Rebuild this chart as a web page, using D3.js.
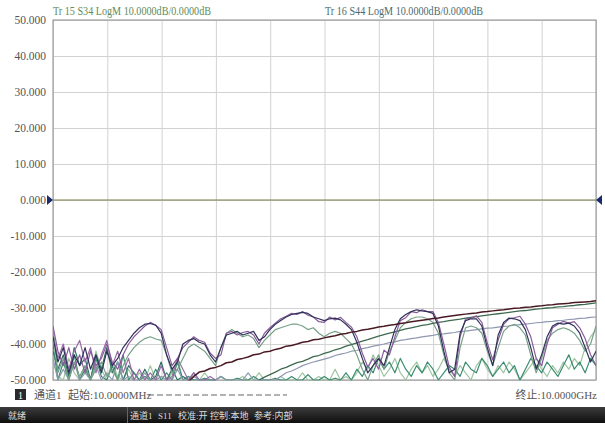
<!DOCTYPE html>
<html>
<head>
<meta charset="utf-8">
<script src="https://cdn.jsdelivr.net/npm/d3@7"></script>
<style>
  body { margin: 0; background: #fff; }
  svg { display: block; }
</style>
</head>
<body>
<svg class="chart"></svg>
<script>
// Frequency points (GHz), start 10 MHz, stop 10 GHz
const freqGHz = [
  0.01, 0.1, 0.2, 0.3, 0.4, 0.5, 0.6, 0.7, 0.8, 0.9,
  1.0, 1.1, 1.2, 1.3, 1.4, 1.5, 1.6, 1.7, 1.8, 1.9,
  2.0, 2.1, 2.2, 2.3, 2.4, 2.5, 2.6, 2.7, 2.8, 2.9,
  3.0, 3.1, 3.2, 3.3, 3.4, 3.5, 3.6, 3.7, 3.8, 3.9,
  4.0, 4.1, 4.2, 4.3, 4.4, 4.5, 4.6, 4.7, 4.8, 4.9,
  5.0, 5.1, 5.2, 5.3, 5.4, 5.5, 5.6, 5.7, 5.8, 5.9,
  6.0, 6.1, 6.2, 6.3, 6.4, 6.5, 6.6, 6.7, 6.8, 6.9,
  7.0, 7.1, 7.2, 7.3, 7.4, 7.5, 7.6, 7.7, 7.8, 7.9,
  8.0, 8.1, 8.2, 8.3, 8.4, 8.5, 8.6, 8.7, 8.8, 8.9,
  9.0, 9.1, 9.2, 9.3, 9.4, 9.5, 9.6, 9.7, 9.8, 9.9,
  10.0
];

// grid divisions and tick labels
const xGridGHz = [0.01, 1.009, 2.008, 3.007, 4.006, 5.005, 6.004, 7.003, 8.002, 9.001, 10.0];
const yTicks = [50, 40, 30, 20, 10, 0, -10, -20, -30, -40, -50];

// traces (dB)
const tr1 = [
  -35, -42, -46, -41, -47, -43, -48, -42, -46, -44,
  -40, -45, -47, -43, -40, -38, -36.5, -35, -34, -34.8,
  -36, -41, -46, -44, -41, -39.5, -38, -39, -39.5, -42.5,
  -44, -43, -37, -36.5, -37.5, -36.8, -36.5, -37.5, -40, -37,
  -35.5, -34.2, -33, -32.3, -31.5, -31.8, -31, -32, -32.5, -33.8,
  -34, -32.5, -33.3, -32.6, -34, -35.3, -38, -42.5, -46.4, -44,
  -47, -41.7, -43, -38, -33.5, -32.7, -31, -31.3, -30.5, -31,
  -31, -34, -40, -46.4, -49, -38, -33, -32.8, -32.2, -34,
  -39.7, -44.4, -38.9, -34.5, -33, -32.7, -32.3, -34.5, -38, -44,
  -46, -40, -35.5, -34.5, -33.7, -34.2, -33.8, -35.5, -38.5, -43,
  -46
];
const tr2 = [
  -38, -45, -41, -48, -43, -46, -41, -47, -43, -48,
  -42, -46, -44, -41, -39, -37, -35.5, -34.5, -34.3, -34.8,
  -37, -43, -47, -45, -40, -39, -38.5, -39.5, -40, -43,
  -45, -41, -37.5, -37, -36.5, -37.5, -37, -36.5, -39, -38,
  -36, -34.5, -33.5, -32.5, -31.8, -31.5, -31.2, -31.5, -32.5, -33,
  -33.5, -33, -32.8, -33.3, -34.5, -36, -39.5, -44, -48, -46,
  -44, -46, -41, -36, -33, -31.8, -31, -30.5, -30.8, -31,
  -31.5, -35, -42, -48, -47, -37, -33.5, -33, -33, -35,
  -41, -46, -37.5, -34, -32.8, -33, -33.5, -36, -41, -47,
  -43, -38, -35, -34.2, -34.5, -34.2, -35, -37, -41, -45,
  -42
];
const tr3 = [
  -36, -48, -44, -50, -45, -49, -46, -50, -47, -45,
  -49, -47, -50, -46, -43, -41, -39.5, -38.5, -38, -38.6,
  -39, -43, -48, -47, -44, -41, -40, -41, -42, -44,
  -46, -41, -37, -36, -37, -38, -37.5, -38.5, -41, -39,
  -37.5, -36, -35.5, -35, -34.5, -34.5, -35, -36, -35.5, -37,
  -38, -37, -36.5, -37, -38.5, -40, -43, -47, -50, -46,
  -43, -47, -42, -39, -35.5, -34, -33, -32.5, -32.5, -33,
  -34, -37, -43, -48, -50, -41, -35.5, -35, -35.5, -37,
  -42, -46, -41, -36.5, -35, -34.5, -35.5, -37.5, -43, -48,
  -44, -39, -37, -36, -35.5, -36, -37, -39, -42, -40,
  -35
];
const tr4 = [
  -40, -50, -45, -50, -43, -50, -47, -50, -44, -49,
  -50, -46, -50, -43, -50, -48, -50, -49, -50, -47,
  -50, -48, -50, -45, -50, -49, -50, -50, -49.5, -50,
  -50, -49, -50, -50, -49.5, -50, -50, -49, -50, -50,
  -50, -49.5, -50, -50, -49, -50, -50, -48.5, -50, -50,
  -49, -50, -49.5, -50, -48, -50, -47, -49, -46, -48,
  -44, -47, -45, -48, -44, -47, -49, -46, -48, -45,
  -47, -50, -48, -46, -47, -49, -45, -47, -48, -44,
  -46, -49, -47, -45, -48, -46, -50, -47, -44, -46,
  -48, -45, -47, -49, -46, -43, -47, -45, -48, -44,
  -46
];
const tr5 = [
  null, null, null, null, null, null, null, null, null, null,
  null, null, null, null, null, null, null, null, null, null,
  null, null, null, null, null, -50.5, -49, -47.8, -47.5, -46.8,
  -46.5, -46, -45.2, -45, -44.3, -44, -43.6, -43, -42.8, -42.2,
  -42, -41.5, -41.2, -40.6, -40.4, -40, -39.5, -39.3, -38.8, -38.7,
  -38.3, -38, -37.7, -37.3, -37.1, -36.7, -36.5, -36.1, -35.9, -35.6,
  -35.3, -35.1, -34.8, -34.6, -34.3, -34.1, -33.8, -33.6, -33.4, -33.2,
  -32.9, -32.8, -32.5, -32.3, -32.1, -31.9, -31.7, -31.5, -31.4, -31.1,
  -31, -30.8, -30.6, -30.5, -30.3, -30.1, -30, -29.8, -29.7, -29.5,
  -29.4, -29.2, -29.1, -28.9, -28.8, -28.7, -28.5, -28.4, -28.3, -28.2,
  -28
];
const tr6 = [
  null, null, null, null, null, null, null, null, null, null,
  null, null, null, null, null, null, null, null, null, null,
  null, null, null, null, null, null, null, null, null, null,
  null, null, null, null, null, null, null, null, -50, -49.2,
  -48.5, -47.8, -47, -46.5, -45.8, -45.2, -44.8, -44.2, -43.5, -43.2,
  -42.6, -42.2, -41.6, -41.2, -40.6, -40.2, -39.7, -39.2, -38.8, -38.3,
  -37.8, -37.4, -37, -36.6, -36.2, -35.8, -35.5, -35.2, -34.8, -34.6,
  -34.3, -34, -33.8, -33.5, -33.3, -33.1, -32.8, -32.6, -32.4, -32.2,
  -32, -31.8, -31.6, -31.4, -31.2, -31, -30.8, -30.7, -30.5, -30.3,
  -30.2, -30, -29.9, -29.7, -29.6, -29.4, -29.3, -29.1, -29, -28.8,
  -28.6
];
const tr7 = [
  -44, -50, -47, -50, -45, -50, -48, -50, -46, -50,
  -48, -50, -45, -50, -49, -50, -50, -48, -50, -50,
  -49, -50, -50, -47, -50, -50, -49, -50, -50, -50,
  -50, -49, -50, -50, -50, -50, -48, -50, -50, -50,
  -50, -50, -49, -48, -47.5, -46.8, -46, -45.5, -45, -44.6,
  -44.2, -43.8, -43.2, -42.8, -42.5, -42, -41.8, -41.3, -41, -40.6,
  -40.3, -40, -39.6, -39.4, -39, -38.8, -38.5, -38.3, -38, -37.8,
  -37.6, -37.3, -37.2, -37, -36.8, -36.5, -36.4, -36.2, -36, -35.8,
  -35.6, -35.5, -35.3, -35.1, -35, -34.8, -34.6, -34.5, -34.3, -34.1,
  -34, -33.8, -33.7, -33.5, -33.4, -33.2, -33.1, -32.9, -32.8, -32.6,
  -32.5
];
const tr8 = [
  -45, -49, -50, -44, -48, -50, -46, -50, -42, -47,
  -50, -45, -49, -50, -47, -50, -48, -50, -46, -50,
  -49, -50, -48, -44, -50, -49, -50, -50, -48, -50,
  -50, -49, -50, -50, -50, -49, -50, -50, -48, -50,
  -50, -50, -49, -50, -50, -50, -48, -50, -50, -49,
  -50, -50, -47, -50, -49, -50, -48, -45, -47, -43,
  -46, -49, -47, -44, -48, -50, -47, -45, -48, -46,
  -49, -47, -44, -47, -49, -46, -48, -50, -46, -44,
  -47, -49, -46, -48, -45, -47, -50, -48, -46, -44,
  -47, -49, -46, -48, -45, -47, -44, -46, -41, -38,
  -36
];
// extra low-band traces (only the first ~3 GHz is shown)
const tr9 = [
  -37, -44, -40, -47, -42, -39, -45, -41, -48, -43,
  -39, -46, -42, -48, -44, -50, -47, -50, -48, -50,
  -46, -50, -49, -44, -47, -50, -48, -50, -50, -49,
  -50
];
const tr10 = [
  -42, -47, -43, -49, -41, -46, -44, -50, -43, -47,
  -41, -48, -45, -50, -46, -48, -50, -47, -50, -49,
  -45, -50, -47, -50, -49, -50, -48, -50, -50, -50,
  -50
];

const traceTitles = ["Tr 15 S34 LogM 10.0000dB/0.0000dB", "Tr 16 S44 LogM 10.0000dB/0.0000dB"];
const startLabel = "起始:10.0000MHz";
const stopLabel = "终止:10.0000GHz";
const channelLabel = "通道1";
const statusReady = "就绪";
const statusItems = ["通道1", "S11", "校准:开", "控制:本地", "参考:内部"];

// Set the dimensions
const width = 605;
const height = 432;

const svg = d3.select(".chart")
    .attr("width", width)
    .attr("height", height);

const x = d3.scaleLinear().domain([0.01, 10]).range([53, 596]);
const y = d3.scaleLinear().domain([-50, 50]).range([380, 20]);

const plotW = x.range()[1] - x.range()[0];
const plotH = y.range()[0] - y.range()[1];

// vertical grid
svg.append("g")
    .attr("transform", `translate(0,${y(-50)})`)
    .call(d3.axisBottom(x).tickValues(xGridGHz).tickSize(-plotH).tickFormat(""))
    .call(g => g.select(".domain").remove())
    .selectAll("line").attr("stroke", "#d2d2d2");

// horizontal grid + labels
svg.append("g")
    .attr("transform", `translate(${x(0.01)},0)`)
    .call(d3.axisLeft(y).tickValues(yTicks).tickSize(-plotW).tickPadding(7)
        .tickFormat(d => d.toFixed(3)))
    .call(g => g.select(".domain").remove())
    .call(g => g.selectAll("line").attr("stroke", "#d2d2d2"))
    .call(g => g.selectAll("text")
        .attr("fill", "#555")
        .style("font-family", "'Liberation Serif', serif")
        .style("font-size", "11.5px"));

// border
svg.append("rect")
    .attr("x", x(0.01)).attr("y", y(50))
    .attr("width", plotW).attr("height", plotH)
    .attr("fill", "none").attr("stroke", "#8e8e8e");

// clip for traces
svg.append("clipPath").attr("id", "plot")
  .append("rect")
    .attr("x", x(0.01)).attr("y", y(50) - 1)
    .attr("width", plotW).attr("height", plotH + 1.5);

const line = d3.line()
    .defined(d => d !== null)
    .x((d, i) => x(freqGHz[i]))
    .y(d => y(d));

const traces = [
    { data: tr8, color: "#9cc4a0", w: 1.2 },
    { data: tr10, color: "#2f7060", w: 1.2 },
    { data: tr4, color: "#3a8c70", w: 1.2 },
    { data: tr7, color: "#8e98b0", w: 1.2 },
    { data: tr9, color: "#9a6aa8", w: 1.2 },
    { data: tr3, color: "#78a088", w: 1.2 },
    { data: tr6, color: "#3d6a4f", w: 1.3 },
    { data: tr1, color: "#8a5a9c", w: 1.2 },
    { data: tr2, color: "#2e3256", w: 1.2 },
    { data: tr5, color: "#4a1a24", w: 1.5 }
];

const g = svg.append("g").attr("clip-path", "url(#plot)");

g.selectAll(".trace")
    .data(traces)
    .enter().append("path")
    .attr("class", "trace")
    .attr("d", d => line(d.data))
    .attr("fill", "none")
    .attr("stroke", d => d.color)
    .attr("stroke-width", d => d.w)
    .attr("stroke-linejoin", "round");

// reference line at 0 dB
svg.append("line")
    .attr("x1", x(0.01)).attr("x2", x(10))
    .attr("y1", y(0)).attr("y2", y(0))
    .attr("stroke", "#7c7c44").attr("stroke-width", 1.2);

// reference markers
const x0 = x(0.01), x1 = x(10), y0 = y(0);
svg.append("path")
    .attr("d", `M${x0 - 6},${y0 - 5}L${x0},${y0}L${x0 - 6},${y0 + 5}Z`)
    .attr("fill", "#1c2a6e");
svg.append("path")
    .attr("d", `M${x1 + 6},${y0 - 5}L${x1},${y0}L${x1 + 6},${y0 + 5}Z`)
    .attr("fill", "#1c2a6e");

// trace titles
svg.append("text")
    .attr("x", 53).attr("y", 15)
    .attr("fill", "#5e8c5a")
    .attr("textLength", 158).attr("lengthAdjust", "spacingAndGlyphs")
    .style("font-family", "'Liberation Serif', serif")
    .style("font-size", "11.5px")
    .text(traceTitles[0]);
svg.append("text")
    .attr("x", 325).attr("y", 15)
    .attr("fill", "#4d6b6e")
    .attr("textLength", 158).attr("lengthAdjust", "spacingAndGlyphs")
    .style("font-family", "'Liberation Serif', serif")
    .style("font-size", "11.5px")
    .text(traceTitles[1]);

// bottom info row
const font = "'Liberation Serif', 'Noto Sans CJK SC', serif";
svg.append("rect").attr("x", 15).attr("y", 389).attr("width", 11).attr("height", 11).attr("fill", "#2a2a2a");
svg.append("text").attr("x", 20.5).attr("y", 398.5).attr("text-anchor", "middle")
    .attr("fill", "#fff").style("font-family", font).style("font-size", "10px").text("1");
svg.append("text").attr("x", 34).attr("y", 399)
    .attr("fill", "#555").style("font-family", font).style("font-size", "11px").text(channelLabel);
svg.append("text").attr("x", 68).attr("y", 399)
    .attr("fill", "#555").style("font-family", font).style("font-size", "11px").text(startLabel);
svg.append("line").attr("x1", 148).attr("x2", 287).attr("y1", 395).attr("y2", 395)
    .attr("stroke", "#666").attr("stroke-dasharray", "6,3");
svg.append("text").attr("x", 597).attr("y", 399).attr("text-anchor", "end")
    .attr("fill", "#555").style("font-family", font).style("font-size", "11px").text(stopLabel);

// status bar
const grad = svg.append("defs").append("linearGradient")
    .attr("id", "bar").attr("x1", 0).attr("y1", 0).attr("x2", 0).attr("y2", 1);
grad.append("stop").attr("offset", "0%").attr("stop-color", "#3c3c3c");
grad.append("stop").attr("offset", "100%").attr("stop-color", "#0e0e0e");

svg.append("rect").attr("x", 0).attr("y", 407).attr("width", width).attr("height", 16)
    .attr("fill", "url(#bar)");
svg.append("line").attr("x1", 127.5).attr("x2", 127.5).attr("y1", 407).attr("y2", 423)
    .attr("stroke", "#666");
svg.append("text").attr("x", 8).attr("y", 419)
    .attr("fill", "#ddd").style("font-family", font).style("font-size", "9px").text(statusReady);

const statusX = [130, 158, 178, 210, 254];
svg.selectAll(".status")
    .data(statusItems)
    .enter().append("text")
    .attr("class", "status")
    .attr("x", (d, i) => statusX[i]).attr("y", 419)
    .attr("fill", "#ddd")
    .style("font-family", font)
    .style("font-size", "9px")
    .text(d => d);
</script>
</body>
</html>
